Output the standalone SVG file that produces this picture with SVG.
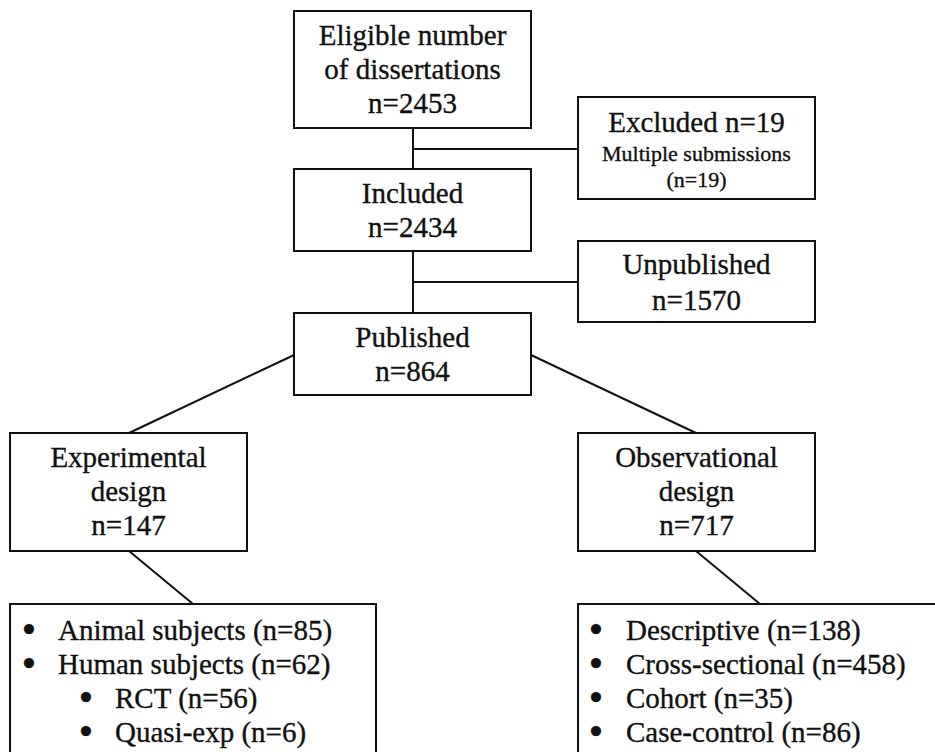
<svg xmlns="http://www.w3.org/2000/svg" width="935" height="752" viewBox="0 0 935 752">
<style>
rect{fill:#fff;stroke:#111;stroke-width:2}
.c line{stroke:#111;stroke-width:2}
text{font-family:"Liberation Serif","Times New Roman",serif;font-size:29px;fill:#111;stroke:#111;stroke-width:0.35}
.m{text-anchor:middle}
.s{font-size:22px}
.b{font-family:"DejaVu Sans",sans-serif;font-weight:bold;font-size:28px}
</style>
<rect x="0" y="0" width="935" height="752" style="stroke:none"/>
<g class="c" id="connectors">
<line x1="413" y1="128" x2="413" y2="169"/>
<line x1="413" y1="149" x2="578" y2="149"/>
<line x1="413" y1="251" x2="413" y2="313"/>
<line x1="413" y1="282" x2="578" y2="282"/>
<line x1="294" y1="355" x2="129" y2="433"/>
<line x1="531" y1="355" x2="696" y2="433"/>
<line x1="129" y1="551" x2="193" y2="604"/>
<line x1="696" y1="551" x2="760" y2="604"/>
</g>
<g id="eligible">
<rect x="294" y="11" width="237" height="117"/>
<text class="m" x="412.5" y="45">Eligible number</text>
<text class="m" x="412.5" y="79">of dissertations</text>
<text class="m" x="412.5" y="113">n=2453</text>
</g>
<g id="excluded">
<rect x="578" y="97" width="237" height="102"/>
<text class="m" x="696.5" y="132">Excluded n=19</text>
<text class="m s" x="696.5" y="161">Multiple submissions</text>
<text class="m s" x="696.5" y="187">(n=19)</text>
</g>
<g id="included">
<rect x="294" y="169" width="237" height="82"/>
<text class="m" x="412.5" y="203">Included</text>
<text class="m" x="412.5" y="237">n=2434</text>
</g>
<g id="unpublished">
<rect x="578" y="241" width="237" height="81"/>
<text class="m" x="696.5" y="274">Unpublished</text>
<text class="m" x="696.5" y="310">n=1570</text>
</g>
<g id="published">
<rect x="294" y="313" width="237" height="82"/>
<text class="m" x="412.5" y="347">Published</text>
<text class="m" x="412.5" y="381">n=864</text>
</g>
<g id="experimental">
<rect x="10" y="433" width="237" height="118"/>
<text class="m" x="128.5" y="467">Experimental</text>
<text class="m" x="128.5" y="501">design</text>
<text class="m" x="128.5" y="535">n=147</text>
</g>
<g id="observational">
<rect x="578" y="433" width="237" height="118"/>
<text class="m" x="696.5" y="467">Observational</text>
<text class="m" x="696.5" y="501">design</text>
<text class="m" x="696.5" y="535">n=717</text>
</g>
<g id="experimental-list">
<rect x="10" y="604" width="366" height="160"/>
<text class="b" x="20" y="640">•</text><text x="58" y="640">Animal subjects (n=85)</text>
<text class="b" x="20" y="674">•</text><text x="58" y="674">Human subjects (n=62)</text>
<text class="b" x="77" y="708">•</text><text x="115" y="708">RCT (n=56)</text>
<text class="b" x="77" y="742">•</text><text x="115" y="742">Quasi-exp (n=6)</text>
</g>
<g id="observational-list">
<rect x="578" y="604" width="370" height="160"/>
<text class="b" x="587" y="640">•</text><text x="626" y="640">Descriptive (n=138)</text>
<text class="b" x="587" y="674">•</text><text x="626" y="674">Cross-sectional (n=458)</text>
<text class="b" x="587" y="708">•</text><text x="626" y="708">Cohort (n=35)</text>
<text class="b" x="587" y="742">•</text><text x="626" y="742">Case-control (n=86)</text>
</g>
</svg>
